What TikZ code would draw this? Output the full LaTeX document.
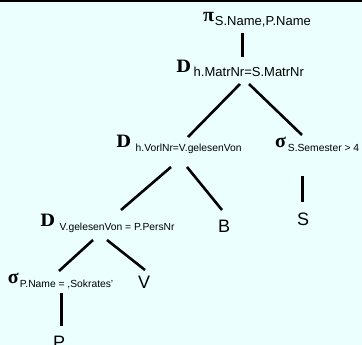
\documentclass[tikz,border=0pt]{standalone}
\usepackage{fontspec}
\setmainfont{Liberation Sans}
\newfontfamily\greekf{Liberation Serif}
\newfontfamily\joinfont{DejaVu Serif}
\definecolor{bgcyan}{RGB}{235,255,255}
\newcommand{\jsym}{{\joinfont\bfseries\fontsize{17}{17}\selectfont D}}
\newcommand{\gsym}[1]{{\greekf\bfseries\fontsize{20}{20}\selectfont #1}}
\newcommand{\subbig}[1]{\raisebox{-4pt}{\fontsize{13}{13}\selectfont #1}}
\newcommand{\subsmall}[1]{\raisebox{-4pt}{\fontsize{10.3}{10.3}\selectfont #1}}
\tikzset{
  op/.style={anchor=base west, inner sep=0pt, outer sep=0pt, text=black},
  rel/.style={anchor=base west, inner sep=0pt, outer sep=0pt, font=\fontsize{18}{18}\selectfont},
  edge/.style={draw=black, line width=2.6pt},
}
\begin{document}
\begin{tikzpicture}[x=1pt,y=-1pt]
\useasboundingbox (0,0) rectangle (362,345);
\fill[bgcyan] (0,0) rectangle (362,345);
\fill[black] (0,0) rectangle (362,2);
% operator nodes
\node[op] (pi) at (203,22) {\gsym{π}\hspace{1pt}\subbig{S.Name,P.Name}};
\node[op] (j1) at (176,73) {\jsym\hspace{3pt}\subbig{h.MatrNr=S.MatrNr}};
\node[op] (j2) at (116,148) {\jsym\hspace{5pt}\subsmall{h.VorlNr=V.gelesenVon}};
\node[op] (s2) at (275,148) {\gsym{σ}\hspace{2pt}\subsmall{S.Semester > 4}};
\node[op] (j3) at (40,226) {\jsym\hspace{5pt}\subsmall{V.gelesenVon = P.PersNr}};
\node[op] (s4) at (8,283) {\gsym{σ}\hspace{1pt}\subsmall{P.Name = ,Sokrates'}};
% relations
\node[rel] (B) at (218,232) {B};
\node[rel] (S) at (297,225) {S};
\node[rel] (V) at (138,288) {V};
\node[rel] (P) at (53,348) {P};
% connector end points
\coordinate (pi-b) at (242,33);
\coordinate (j1-t) at (242,57);
\coordinate (j1-bl) at (240,84);
\coordinate (j1-br) at (249,84);
\coordinate (j2-t) at (188,137);
\coordinate (s2-t) at (302,135);
\coordinate (s2-b) at (302,176);
\coordinate (S-t) at (302,202);
\coordinate (j2-bl) at (171,167);
\coordinate (j2-br) at (187,167);
\coordinate (j3-t) at (121,210);
\coordinate (B-t) at (222,210);
\coordinate (j3-bl) at (93,240);
\coordinate (j3-br) at (107,240);
\coordinate (s4-t) at (59,271);
\coordinate (V-t) at (145,270);
\coordinate (s4-b) at (61,293);
\coordinate (P-t) at (61,326);
% connectors
\draw[edge, line width=3pt] (pi-b) -- (j1-t);
\draw[edge] (j1-bl) -- (j2-t);
\draw[edge] (j1-br) -- (s2-t);
\draw[edge, line width=3pt] (s2-b) -- (S-t);
\draw[edge] (j2-bl) -- (j3-t);
\draw[edge] (j2-br) -- (B-t);
\draw[edge] (j3-bl) -- (s4-t);
\draw[edge] (j3-br) -- (V-t);
\draw[edge, line width=3pt] (s4-b) -- (P-t);
\end{tikzpicture}
\end{document}
